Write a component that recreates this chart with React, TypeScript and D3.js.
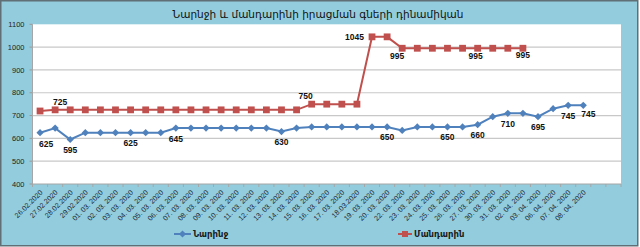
import React from 'react';
import * as d3 from 'd3';

const title = 'Նարնջի և մանդարինի իրացման գների դինամիկան';
const seriesNames = ['Նարինջ', 'Մանդարին'];

const categories = [
  '26.02.2020', '27.02.2020', '28.02.2020', '29.02.2020',
  '01. 03. 2020', '02. 03. 2020', '03. 03. 2020', '04. 03. 2020', '05. 03. 2020',
  '06. 03. 2020', '07. 03. 2020', '08. 03. 2020', '09. 03. 2020', '10. 03. 2020',
  '11. 03. 2020', '12. 03. 2020', '13. 03. 2020', '14. 03. 2020', '15. 03. 2020',
  '16. 03. 2020', '17. 03. 2020', '18.03.2020', '19. 03. 2020', '20. 03. 2020',
  '22. 03. 2020', '23. 03. 2020', '24. 03. 2020', '25. 03. 2020', '26. 03. 2020',
  '27. 03. 2020', '30. 03. 2020', '31. 03. 2020', '02. 04. 2020', '03. 04. 2020',
  '06. 04. 2020', '07. 04. 2020', '08. 04. 2020', '', '',
];

const oranges = [
  625, 645, 595, 625, 625, 625, 625, 625, 625, 645,
  645, 645, 645, 645, 645, 645, 630, 645, 650, 650,
  650, 650, 650, 650, 635, 650, 650, 650, 650, 660,
  695, 710, 710, 695, 730, 745, 745,
];

const mandarins = [
  720, 725, 725, 725, 725, 725, 725, 725, 725, 725,
  725, 725, 725, 725, 725, 725, 725, 725, 750, 750,
  750, 750, 1045, 1045, 995, 995, 995, 995, 995, 995,
  995, 995, 995,
];

const yTicks = [400, 500, 600, 700, 800, 900, 1000, 1100];

const orangeLabelIdx = [0, 2, 6, 9, 16, 23, 27, 29, 31, 33, 35, 36];
const mandarinLabelIdx = [1, 18, 22, 24, 29, 32];

const BLUE = '#4F81BD';
const RED = '#C0504D';

export default function App() {
  const W = 640, H = 247;
  const left = 32.5, right = 621, top = 24.3, bottom = 184;
  const x = d3.scaleBand<number>().domain(d3.range(categories.length)).range([left, right]).padding(0);
  const y = d3.scaleLinear().domain([400, 1100]).range([bottom, top]);
  const cx = (i: number) => (x(i) as number) + x.bandwidth() / 2;

  const line = d3.line<number>().x((_, i) => cx(i)).y((d) => y(d));

  const diamond = (px: number, py: number, r = 3.6) =>
    `M${px},${py - r}L${px + r},${py}L${px},${py + r}L${px - r},${py}Z`;

  // label placement (offsets in px of text center relative to the point)
  const orangeOffset = (i: number): [number, number] => {
    if (i === 0) return [6, 11];
    if (i === 36) return [5, 9];
    return [0, 10.5];
  };
  const mandarinOffset = (i: number): [number, number, string] => {
    if (i === 1) return [5, -4.5, 'middle'];
    if (i === 18) return [-6, -5, 'middle'];
    if (i === 22) return [-8, 3, 'end'];
    if (i === 24) return [-5, 10.5, 'middle'];
    if (i === 29) return [-2, 11, 'middle'];
    return [0, 10, 'middle'];
  };

  const labelFont = { fontFamily: 'Liberation Sans, Arial, sans-serif', fontSize: 8.5, fontWeight: 700, fill: '#111' } as const;

  return (
    <svg width={W} height={H} style={{ position: 'absolute', left: 0, top: 0, display: 'block' }}>
      <rect x={0} y={0} width={W} height={H} fill="#ffffff" />
      <rect x={0.75} y={0.75} width={637} height={245} fill="#93CDDD" stroke="#5f6f75" strokeWidth={1.5} />
      <text x={318} y={18} textAnchor="middle" style={{ fontFamily: 'DejaVu Sans, sans-serif', fontSize: 10.5, fill: '#111' }}>
        {title}
      </text>

      <rect x={left} y={top} width={right - left} height={bottom - top} fill="#ffffff" />

      {yTicks.map((t) => (
        <g key={t}>
          {t !== 400 && t !== 1100 && (
            <line x1={left} x2={right} y1={y(t)} y2={y(t)} stroke="#c8c8c8" strokeWidth={1.2} />
          )}
          <line x1={left - 3} x2={left} y1={y(t)} y2={y(t)} stroke="#999" strokeWidth={1} />
          <text x={left - 8} y={y(t)} dy="0.35em" textAnchor="end"
            style={{ fontFamily: 'Liberation Sans, Arial, sans-serif', fontSize: 7.5, fill: '#222' }}>
            {t}
          </text>
        </g>
      ))}

      <line x1={left} x2={left} y1={top} y2={bottom} stroke="#a6a6a6" strokeWidth={1} />
      <line x1={left} x2={right} y1={bottom} y2={bottom} stroke="#a6a6a6" strokeWidth={1} />
      {d3.range(categories.length + 1).map((k) => {
        const xx = left + k * x.bandwidth();
        return <line key={k} x1={xx} x2={xx} y1={bottom} y2={bottom + 3} stroke="#a6a6a6" strokeWidth={1} />;
      })}

      {categories.map((c, i) => (
        <text key={i} transform={`translate(${cx(i) + 3},${bottom + 9}) rotate(-45)`} textAnchor="end"
          style={{ fontFamily: 'Liberation Sans, Arial, sans-serif', fontSize: 7.2, fill: '#1c2b3a' }}>
          {c}
        </text>
      ))}

      <path d={line(oranges) || ''} fill="none" stroke={BLUE} strokeWidth={2} />
      {oranges.map((v, i) => (
        <path key={i} d={diamond(cx(i), y(v))} fill={BLUE} />
      ))}

      <path d={line(mandarins) || ''} fill="none" stroke={RED} strokeWidth={2} />
      {mandarins.map((v, i) => (
        <rect key={i} x={cx(i) - 3.4} y={y(v) - 3.4} width={6.8} height={6.8} fill={RED} />
      ))}

      {orangeLabelIdx.map((i) => {
        const [dx, dy] = orangeOffset(i);
        return (
          <text key={i} x={cx(i) + dx} y={y(oranges[i]) + dy} dy="0.35em" textAnchor="middle" style={labelFont}>
            {oranges[i]}
          </text>
        );
      })}
      {mandarinLabelIdx.map((i) => {
        const [dx, dy, anchor] = mandarinOffset(i);
        return (
          <text key={i} x={cx(i) + dx} y={y(mandarins[i]) + dy} textAnchor={anchor as any} style={labelFont}>
            {mandarins[i]}
          </text>
        );
      })}

      <g>
        <line x1={174} x2={191} y1={234} y2={234} stroke={BLUE} strokeWidth={2} />
        <path d={diamond(182.5, 234)} fill={BLUE} />
        <text x={193} y={234} dy="0.35em" style={{ fontFamily: 'DejaVu Sans, sans-serif', fontSize: 8.5, fontWeight: 700, fill: '#1a1a1a' }}>
          {seriesNames[0]}
        </text>
        <line x1={398} x2={412} y1={234} y2={234} stroke={RED} strokeWidth={2} />
        <rect x={402} y={231} width={6} height={6} fill={RED} />
        <text x={414} y={234} dy="0.35em" style={{ fontFamily: 'DejaVu Sans, sans-serif', fontSize: 8.5, fontWeight: 700, fill: '#1a1a1a' }}>
          {seriesNames[1]}
        </text>
      </g>
    </svg>
  );
}
